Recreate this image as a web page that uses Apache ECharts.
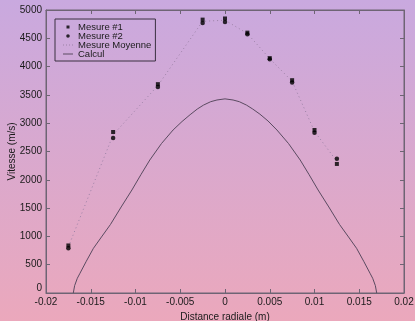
<!DOCTYPE html>
<html>
<head>
<meta charset="utf-8">
<script src="https://cdn.jsdelivr.net/npm/echarts@6/dist/echarts.min.js"></script>
<style>
  html, body { margin: 0; padding: 0; }
  #chart { width: 415px; height: 321px; }
</style>
</head>
<body>
<div id="chart"></div>
<script>
// Radial positions of the measurement stations (m)
const positions = [-0.0175, -0.0125, -0.0075, -0.0025, 0, 0.0025, 0.005, 0.0075, 0.01, 0.0125];
// Measured velocities (m/s)
const mesure1 = [840, 2845, 3690, 4830, 4850, 4600, 4150, 3760, 2880, 2280];
const mesure2 = [790, 2740, 3640, 4770, 4790, 4570, 4130, 3720, 2830, 2370];
const mesureMoyenne = [815, 2795, 3665, 4800, 4820, 4585, 4140, 3740, 2855, 2325];

// Computed velocity profile
const calculX = [-0.01695, -0.0168, -0.0165, -0.0162, -0.0155, -0.0147, -0.0138, -0.0128, -0.0116, -0.0104,
  -0.0094, -0.0084, -0.0071, -0.0058, -0.0048, -0.0039, -0.0031, -0.0024, -0.0016, -0.0009, 0,
  0.0009, 0.0016, 0.0024, 0.0031, 0.0039, 0.0048, 0.0058, 0.0071, 0.0084, 0.0094,
  0.0104, 0.0116, 0.0128, 0.0138, 0.0147, 0.0155, 0.0162, 0.0165, 0.0168, 0.01695];
const calculV = [0, 130, 260, 350, 560, 790, 990, 1210, 1520, 1820,
  2090, 2350, 2640, 2880, 3030, 3150, 3250, 3320, 3380, 3410, 3430,
  3410, 3380, 3320, 3250, 3160, 3040, 2880, 2640, 2350, 2090,
  1820, 1520, 1210, 990, 790, 560, 350, 260, 130, 0];

const xTicks = { min: -0.02, max: 0.02, interval: 0.005 };
const yTicks = { min: 0, max: 5000, interval: 500 };

const pair = (xs, ys) => xs.map((x, i) => [x, ys[i]]);

const axisColor = '#6e6474';
const textColor = '#1a1a1a';
const meanColor = '#9c82a6';
const calcColor = '#5a4a60';
const font = 'Liberation Sans, Arial, sans-serif';

// Legend glyphs drawn in a 10x9 box (the lone moveTo points fix the box extent)
const BOX = 'M0,0M10,0M10,9M0,9';
const iconSquare = 'path://' + BOX + 'M3.5,3h3v3h-3z';
const iconCircle = 'path://' + BOX + 'M3.2,4.5a1.8,1.8 0 1,0 3.6,0a1.8,1.8 0 1,0 -3.6,0z';
const iconDotted = 'path://' + BOX + 'M0,4h1v1h-1zM3,4h1v1h-1zM6,4h1v1h-1zM9,4h1v1h-1z';
const iconSolid = 'path://' + BOX + 'M0,4h10v1h-10z';

const chart = echarts.init(document.getElementById('chart'), null, { renderer: 'canvas' });

const sideAxis = {
  axisLine: { show: true, onZero: false, lineStyle: { color: axisColor } },
  axisTick: { show: true, inside: true, length: 4, lineStyle: { color: axisColor } },
  splitLine: { show: false }
};

chart.setOption({
  animation: false,
  backgroundColor: {
    type: 'linear', x: 0, y: 0, x2: 0, y2: 1,
    colorStops: [
      { offset: 0, color: '#c9a9df' },
      { offset: 1, color: '#eba8bc' }
    ]
  },
  textStyle: { fontFamily: font },
  grid: {
    left: 46, right: 11, top: 10, bottom: 28,
    outerBoundsMode: 'none', containLabel: false,
    show: true, borderColor: axisColor, borderWidth: 1, backgroundColor: 'transparent'
  },
  legend: {
    orient: 'vertical',
    left: 55, top: 19,
    padding: [3, 4, 2, 8],
    itemGap: -1,
    itemWidth: 10, itemHeight: 9,
    borderColor: '#3a3040', borderWidth: 1,
    textStyle: { fontSize: 9.5, color: textColor, fontFamily: font, lineHeight: 9 },
    data: [
      { name: 'Mesure #1', icon: iconSquare, itemStyle: { color: '#000' } },
      { name: 'Mesure #2', icon: iconCircle, itemStyle: { color: '#000' } },
      { name: 'Mesure Moyenne', icon: iconDotted, itemStyle: { color: meanColor } },
      { name: 'Calcul', icon: iconSolid, itemStyle: { color: calcColor } }
    ]
  },
  xAxis: [Object.assign({
    type: 'value',
    min: xTicks.min, max: xTicks.max, interval: xTicks.interval,
    name: 'Distance radiale (m)', nameLocation: 'middle', nameGap: 19, nameMoveOverlap: false,
    nameTextStyle: { fontSize: 10, color: textColor, fontFamily: font },
    axisLabel: { fontSize: 10, color: textColor, margin: 4, fontFamily: font }
  }, sideAxis), Object.assign({
    type: 'value', position: 'top',
    min: xTicks.min, max: xTicks.max, interval: xTicks.interval,
    axisLabel: { show: false }
  }, sideAxis)],
  yAxis: [Object.assign({
    type: 'value',
    min: yTicks.min, max: yTicks.max, interval: yTicks.interval,
    name: 'Vitesse (m/s)', nameLocation: 'middle', nameGap: 29, nameRotate: 90, nameMoveOverlap: false,
    nameTextStyle: { fontSize: 10, color: textColor, fontFamily: font },
    axisLabel: {
      fontSize: 10, color: textColor, margin: 4, fontFamily: font,
      formatter: v => v === 0 ? '{z|0}' : String(v),
      rich: { z: { fontSize: 10, color: textColor, padding: [0, 0, 9, 0], fontFamily: font } }
    }
  }, sideAxis), Object.assign({
    type: 'value', position: 'right',
    min: yTicks.min, max: yTicks.max, interval: yTicks.interval,
    axisLabel: { show: false }
  }, sideAxis)],
  series: [
    {
      name: 'Mesure Moyenne', type: 'line',
      data: pair(positions, mesureMoyenne),
      symbol: 'none',
      lineStyle: { color: meanColor, width: 1, type: [1, 3] },
      itemStyle: { color: meanColor },
      z: 2
    },
    {
      name: 'Calcul', type: 'line',
      data: pair(calculX, calculV),
      symbol: 'none',
      lineStyle: { color: calcColor, width: 1 },
      itemStyle: { color: calcColor },
      z: 2
    },
    {
      name: 'Mesure #1', type: 'scatter',
      data: pair(positions, mesure1),
      symbol: 'rect', symbolSize: 4,
      itemStyle: { color: '#000' },
      z: 3
    },
    {
      name: 'Mesure #2', type: 'scatter',
      data: pair(positions, mesure2),
      symbol: 'circle', symbolSize: 4.5,
      itemStyle: { color: '#000' },
      z: 3
    }
  ]
});
</script>
</body>
</html>
